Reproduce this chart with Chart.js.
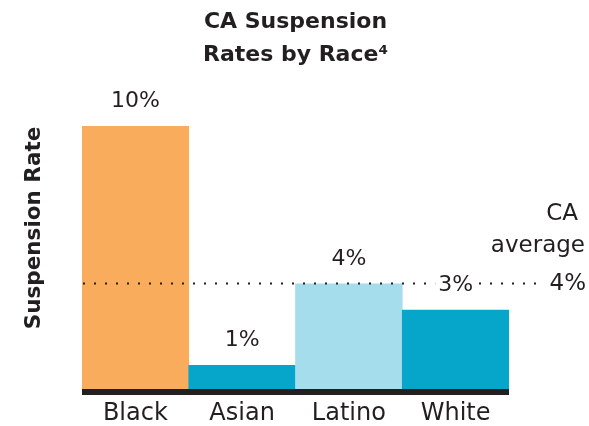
<!DOCTYPE html>
<html>
<head>
<meta charset="utf-8">
<script src="https://cdn.jsdelivr.net/npm/chart.js@4.4.1/dist/chart.umd.min.js"></script>
<style>
  html, body { margin: 0; padding: 0; background: #fff; }
  #wrap { width: 589px; height: 426px; }
</style>
</head>
<body>
<div id="wrap"><canvas id="myChart"></canvas></div>
<script>
const categories = ['Black', 'Asian', 'Latino', 'White'];
const rates = [10, 0.9, 4, 3];
const barColors = ['#F9AC5C', '#06A6CB', '#A6DDEC', '#06A6CB'];
const caAverage = 4;

const ink = '#231F20';
const fontFamily = '"DejaVu Sans", sans-serif';

const overlay = {
  id: 'overlay',
  afterDatasetsDraw(chart) {
    const ctx = chart.ctx;
    const area = chart.chartArea;
    const y = chart.scales.y;
    ctx.save();

    // dotted CA average line
    const yAvg = Math.round(y.getPixelForValue(caAverage)) - 0.5;
    ctx.strokeStyle = ink;
    ctx.lineWidth = 2;
    ctx.setLineDash([2, 9]);
    ctx.beginPath();
    ctx.moveTo(area.left + 1, yAvg);
    ctx.lineTo(area.right + 32, yAvg);
    ctx.stroke();
    ctx.setLineDash([]);

    // baseline
    ctx.fillStyle = ink;
    ctx.fillRect(area.left, area.bottom, area.right - area.left, 6);

    // value labels
    ctx.font = '22px ' + fontFamily;
    ctx.textAlign = 'center';
    ctx.textBaseline = 'middle';
    chart.getDatasetMeta(0).data.forEach((bar, i) => {
      const txt = Math.round(rates[i]) + '%';
      const w = ctx.measureText(txt).width;
      const ty = bar.y - 25;
      ctx.fillStyle = '#fff';
      ctx.fillRect(bar.x - w / 2 - 3, ty - 11, w + 6, 22);
      ctx.fillStyle = ink;
      ctx.fillText(txt, bar.x, ty);
    });

    // CA average note
    ctx.font = '23px ' + fontFamily;
    ctx.textAlign = 'right';
    ctx.fillText('CA', 578, 214);
    ctx.fillText('average', 585, 246);
    ctx.fillText(caAverage + '%', 586, 284);

    // y axis title
    ctx.font = 'bold 21.5px ' + fontFamily;
    ctx.textAlign = 'center';
    ctx.translate(34, 228);
    ctx.rotate(-Math.PI / 2);
    ctx.fillText('Suspension Rate', 0, 0);

    ctx.restore();
  }
};

new Chart(document.getElementById('myChart'), {
  type: 'bar',
  data: {
    labels: categories,
    datasets: [{
      data: rates,
      backgroundColor: barColors,
      borderWidth: 0,
      barPercentage: 1,
      categoryPercentage: 1
    }]
  },
  options: {
    responsive: true,
    maintainAspectRatio: false,
    animation: false,
    layout: { padding: { left: 82, right: 80, top: 0, bottom: 0 } },
    plugins: {
      legend: { display: false },
      tooltip: { enabled: false },
      title: {
        display: true,
        text: ['CA Suspension', 'Rates by Race\u2074'],
        color: ink,
        font: { family: fontFamily, size: 22, weight: 'bold', lineHeight: 1.5 },
        padding: { top: 6, bottom: 54 }
      }
    },
    scales: {
      x: {
        grid: { display: false, drawTicks: false },
        border: { display: false },
        ticks: {
          color: ink,
          padding: 10,
          font: { family: fontFamily, size: 24 }
        },
        afterFit(scale) { scale.height = 37; }
      },
      y: {
        display: false,
        min: 0,
        max: 10
      }
    }
  },
  plugins: [overlay]
});
</script>
</body>
</html>
